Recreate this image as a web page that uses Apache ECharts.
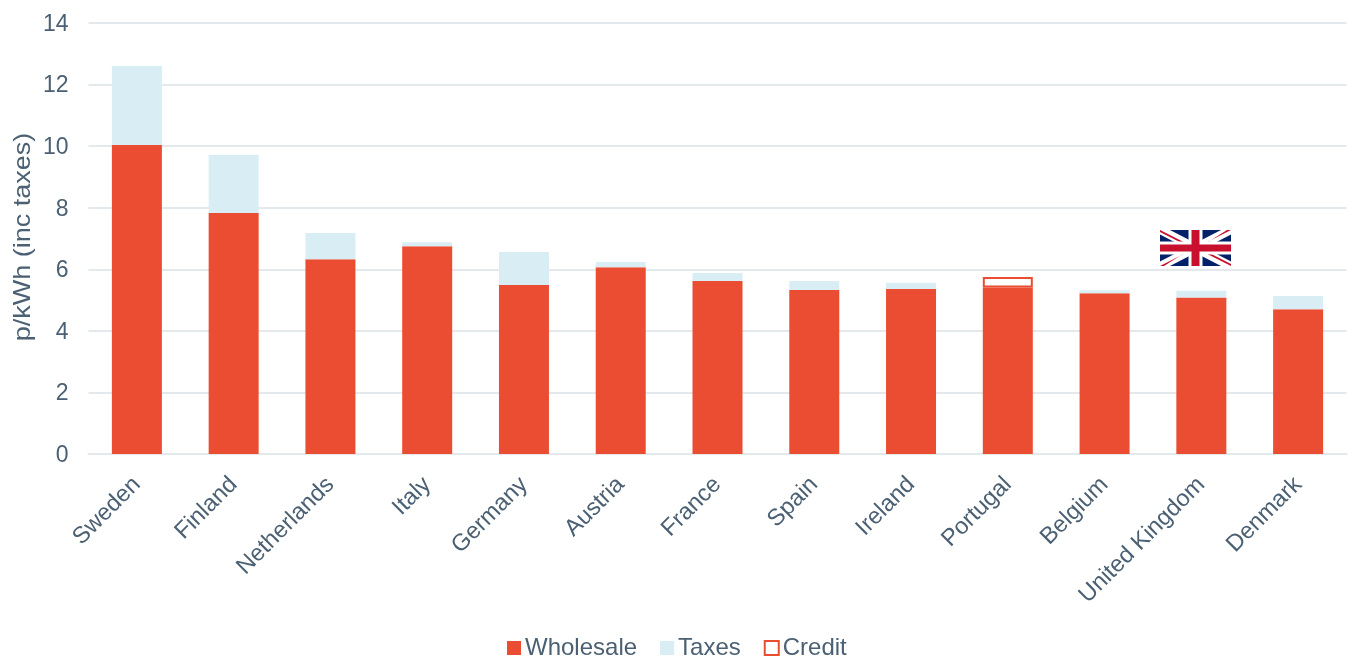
<!DOCTYPE html>
<html>
<head>
<meta charset="utf-8">
<style>html,body{margin:0;padding:0;background:#fff}#chart{width:1352px;height:659px}</style>
<script src="https://cdn.jsdelivr.net/npm/echarts@6/dist/echarts.min.js"></script>
</head>
<body>
<div id="chart"></div>
<script>
const categories = ['Sweden','Finland','Netherlands','Italy','Germany','Austria','France','Spain','Ireland','Portugal','Belgium','United Kingdom','Denmark'];
const wholesale = [10.04,7.83,6.33,6.75,5.49,6.07,5.62,5.33,5.36,5.41,5.22,5.08,4.70];
const taxes = [2.56,1.88,0.85,0.13,1.07,0.17,0.26,0.29,0.20,null,0.10,0.22,0.43];
const credit = [null,null,null,null,null,null,null,null,null,0.34,null,null,null];
const yTicks = [0,2,4,6,8,10,12,14];
const yTitle = 'p/kWh (inc taxes)';

const TEXT = '#4b6073', GRID = '#e4e9ed', RED = '#eb4d33', BLUE = '#d9edf4';
const FONT = '"Liberation Sans", Arial, sans-serif';

const chart = echarts.init(document.getElementById('chart'), null, {renderer:'canvas'});

// Union flag built from simple shapes, sitting above the United Kingdom bar
const W = 71, H = 36;
const navy = '#012169', flagRed = '#c8102e';
function diag(points, fill){ return {type:'polygon', shape:{points}, style:{fill}}; }
const flag = {
  type:'group', x:1160, y:230, silent:true,
  children:[
    {type:'rect', shape:{x:0,y:0,width:W,height:H}, style:{fill:navy}},
    diag([[0,0],[10,0],[W,H-4.5],[W,H],[W-10,H],[0,4.5]],'#fff'),
    diag([[W,0],[W-10,0],[0,H-4.5],[0,H],[10,H],[W,4.5]],'#fff'),
    diag([[0,0],[W/2,H/2],[W/2-4,H/2],[0,2]],flagRed),
    diag([[W,H],[W/2,H/2],[W/2+4,H/2],[W,H-2]],flagRed),
    diag([[W,0],[W/2,H/2],[W/2,H/2+2],[W-4,0]],flagRed),
    diag([[0,H],[W/2,H/2],[W/2,H/2-2],[4,H]],flagRed),
    {type:'rect', shape:{x:W/2-7,y:0,width:14,height:H}, style:{fill:'#fff'}},
    {type:'rect', shape:{x:0,y:H/2-6.5,width:W,height:13}, style:{fill:'#fff'}},
    {type:'rect', shape:{x:W/2-4,y:0,width:8,height:H}, style:{fill:flagRed}},
    {type:'rect', shape:{x:0,y:H/2-3.5,width:W,height:7}, style:{fill:flagRed}}
  ]
};

// Vertical axis title, drawn slightly elongated along its reading direction
const axisTitle = {
  type:'text', x:23, y:237, rotation:Math.PI/2, scaleX:1.125, silent:true,
  style:{text:yTitle, fontSize:24, fontFamily:FONT, fill:TEXT, align:'center', verticalAlign:'middle'}
};

chart.setOption({
  animation:false,
  backgroundColor:'#fff',
  textStyle:{fontFamily:FONT, color:TEXT},
  grid:{left:88.5, right:5.5, top:23, bottom:205, containLabel:false, outerBoundsMode:'none'},
  legend:{
    left:502, top:631, itemWidth:14, itemHeight:14, itemGap:23, icon:'rect',
    textStyle:{fontSize:24, color:TEXT, fontFamily:FONT, padding:[0,0,0,-1]},
    data:['Wholesale','Taxes','Credit']
  },
  xAxis:{
    type:'category', data:categories,
    axisTick:{show:false},
    axisLine:{lineStyle:{color:GRID,width:2}},
    axisLabel:{rotate:45, interval:0, fontSize:23.5, color:TEXT, fontFamily:FONT, margin:27}
  },
  yAxis:{
    type:'value', min:yTicks[0], max:yTicks[yTicks.length-1], interval:2,
    axisLine:{show:false}, axisTick:{show:false},
    axisLabel:{fontSize:23, color:TEXT, fontFamily:FONT, margin:20, verticalAlign:'top', padding:[-10,0,0,0]},
    splitLine:{lineStyle:{color:GRID,width:2}}
  },
  series:[
    {name:'Wholesale', type:'bar', stack:'t', barWidth:50, data:wholesale, itemStyle:{color:RED}},
    {name:'Taxes', type:'bar', stack:'t', barWidth:50, data:taxes, itemStyle:{color:BLUE}},
    {name:'Credit', type:'bar', stack:'t', barWidth:50, data:credit,
      itemStyle:{color:'#fff', borderColor:RED, borderWidth:2}}
  ],
  graphic:[flag, axisTitle]
});
</script>
</body>
</html>
